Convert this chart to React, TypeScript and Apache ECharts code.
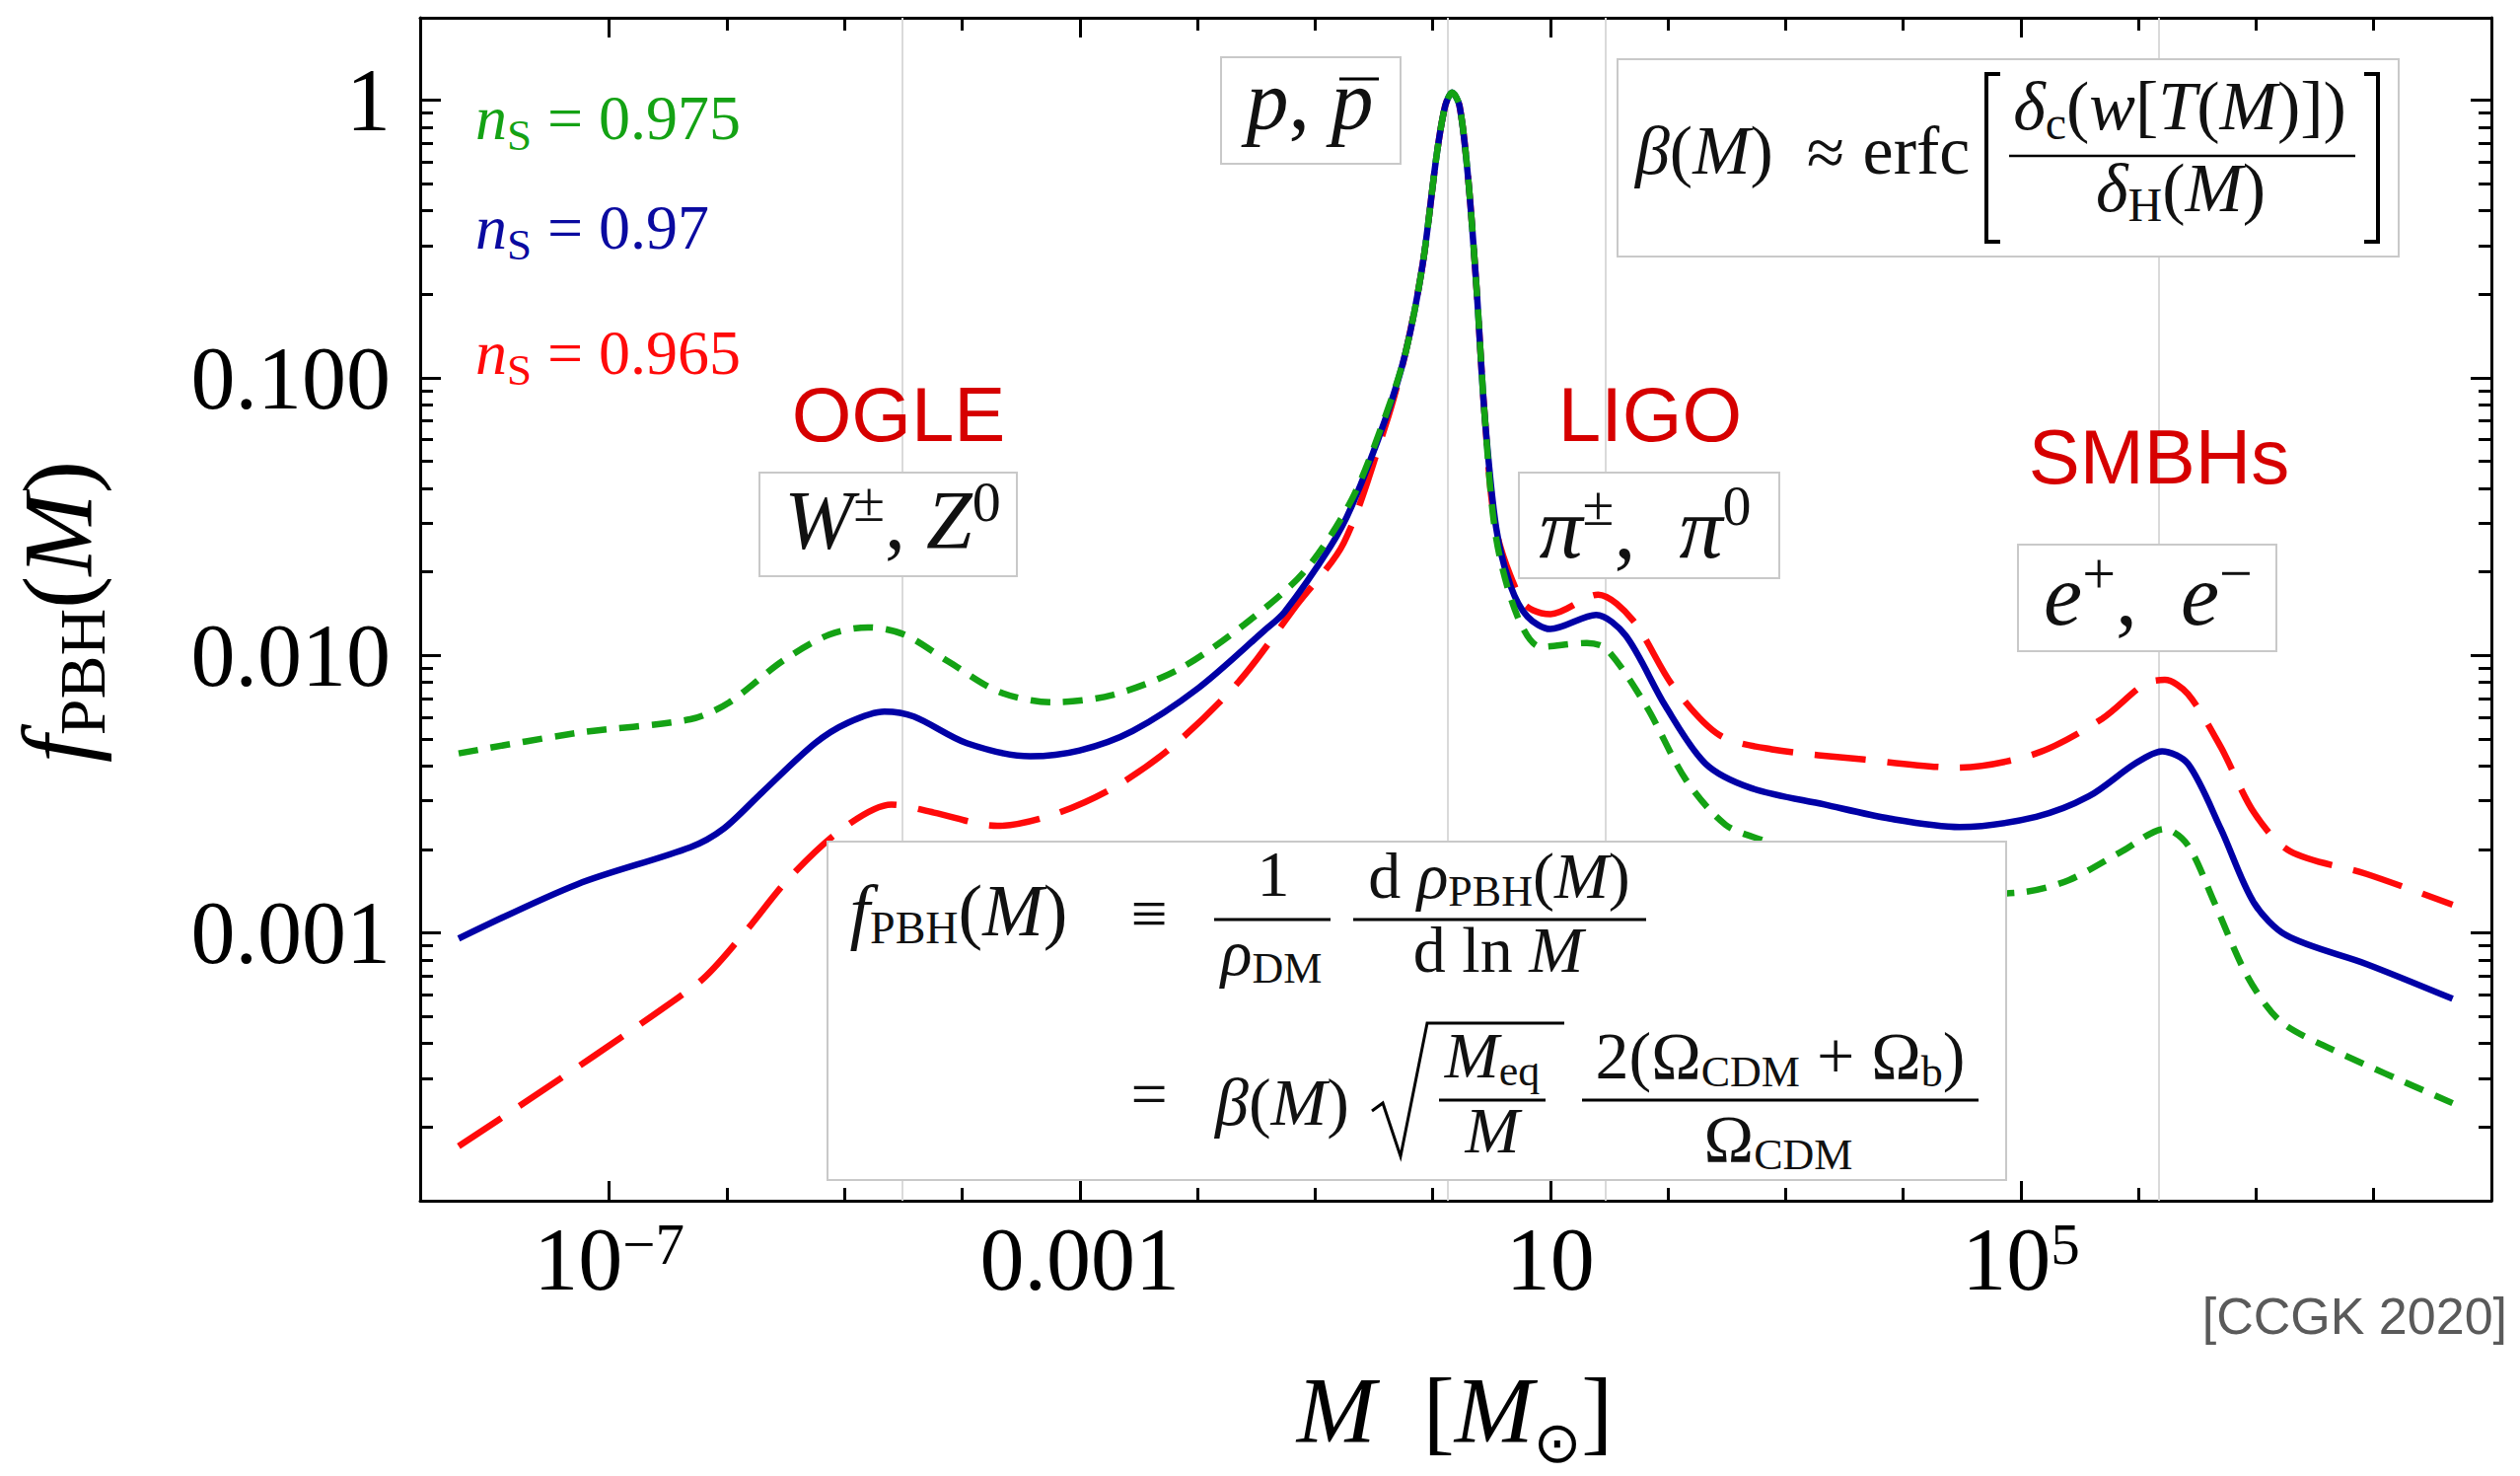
import React, { useEffect, useRef } from 'react';
import * as echarts from 'echarts';

const W = 2555;
const H = 1496;
const SERIF = "'Liberation Serif'";
const SANS = "'Liberation Sans'";

// ---- axes (log10 units) ----
const X_MIN = -8.607;
const X_MAX = 9.0;
const Y_MIN = -3.9645;
const Y_MAX = 0.2975;

const xMajorTicks = [-7, -3, 1, 5];
const xMajorLabels = ['{b|10}{s|\u22127}', '{b|0.001}', '{b|10}', '{b|10}{s|5}'];
const xMinorTicks = [-6, -5, -4, -2, -1, 0, 2, 3, 4, 6, 7, 8];
const yMajorTicks = [-3, -2, -1, 0];
const yMajorLabels = ['0.001', '0.010', '0.100', '1'];
const yMinorDecades = [-4, -3, -2, -1, 0];
const yMinorMultipliers = [2, 3, 4, 5, 6, 7, 8, 9];

// faint vertical reference lines (log10 M)
const gridLinesLog10M = [-4.515, 0.128, 1.469, 6.173];

// ---- data: log10(M/Msun) and log10(f_PBH) ----
const log10M_ns0970 = [-8.28, -7.27, -6.31, -6.03, -5.70, -5.25, -4.97, -4.66, -4.41, -3.96, -3.42, -3.00, -2.55, -1.99, -1.43, -1.26, -0.87, -0.69, -0.40, -0.23, -0.085, 0.035, 0.107, 0.165, 0.228, 0.30, 0.372, 0.444, 0.541, 0.662, 0.806, 1.00, 1.39, 1.64, 1.98, 2.32, 2.71, 3.33, 3.89, 4.48, 5.13, 5.58, 5.97, 6.20, 6.42, 6.70, 6.98, 7.26, 7.94, 8.67];
const log10f_ns0970 = [-3.020, -2.824, -2.691, -2.625, -2.493, -2.316, -2.242, -2.202, -2.220, -2.316, -2.363, -2.342, -2.272, -2.117, -1.910, -1.844, -1.608, -1.464, -1.146, -0.908, -0.591, -0.194, -0.019, 0.028, -0.019, -0.273, -0.670, -1.146, -1.543, -1.749, -1.860, -1.905, -1.854, -1.928, -2.183, -2.390, -2.478, -2.537, -2.588, -2.618, -2.581, -2.507, -2.390, -2.345, -2.390, -2.625, -2.890, -3.009, -3.112, -3.237];

const log10M_ns0975 = [-8.28, -7.27, -6.31, -5.98, -5.53, -5.13, -4.80, -4.49, -4.12, -3.68, -3.23, -2.72, -2.16, -1.60, -1.09, -0.69, -0.40, -0.23, -0.085, 0.035, 0.107, 0.165, 0.228, 0.30, 0.372, 0.444, 0.541, 0.721, 0.918, 1.311, 1.479, 1.816, 2.153, 2.490, 2.827, 3.40, 4.00, 4.50, 5.017, 5.410, 5.859, 6.224, 6.420, 6.645, 6.926, 7.207, 7.655, 8.67];
const log10f_ns0975 = [-2.353, -2.279, -2.230, -2.169, -2.021, -1.925, -1.899, -1.925, -2.021, -2.132, -2.169, -2.142, -2.050, -1.888, -1.697, -1.44, -1.135, -0.908, -0.591, -0.194, -0.019, 0.028, -0.019, -0.273, -0.670, -1.146, -1.58, -1.859, -1.969, -1.955, -1.977, -2.183, -2.448, -2.610, -2.669, -2.76, -2.83, -2.86, -2.853, -2.809, -2.706, -2.625, -2.684, -2.890, -3.156, -3.318, -3.421, -3.613];

const log10M_ns0965 = [-8.28, -6.26, -5.87, -5.47, -5.02, -4.60, -4.24, -3.70, -3.23, -2.72, -2.22, -1.65, -1.15, -0.755, -0.40, -0.23, -0.085, 0.035, 0.107, 0.165, 0.228, 0.30, 0.372, 0.444, 0.541, 0.749, 0.853, 1.002, 1.407, 1.704, 2.041, 2.434, 2.883, 3.669, 4.456, 5.129, 5.691, 6.055, 6.224, 6.420, 6.701, 6.982, 7.290, 7.936, 8.67];
const log10f_ns0965 = [-3.768, -3.185, -3.009, -2.802, -2.625, -2.537, -2.566, -2.614, -2.574, -2.478, -2.331, -2.095, -1.815, -1.594, -1.17, -0.908, -0.591, -0.194, -0.019, 0.028, -0.019, -0.273, -0.670, -1.146, -1.55, -1.80, -1.837, -1.851, -1.781, -1.874, -2.109, -2.286, -2.338, -2.375, -2.404, -2.353, -2.228, -2.102, -2.088, -2.139, -2.331, -2.566, -2.706, -2.787, -2.898];

const BLUE = '#0000a6';
const GREEN = '#14a214';
const RED = '#ff0a0a';
const LABEL_RED = '#d60000';

type TokOpt = { s?: number; it?: boolean; dy?: number; fam?: string };
type Tok = [string, TokOpt?];

const K = 0.3375;

function mathText(x: number, baseline: number, toks: Tok[], base: number, align: string, color: string, family: string = SERIF): any {
  const rich: Record<string, any> = {};
  let text = '';
  toks.forEach(([t, o], i) => {
    const opt = o || {};
    const size = opt.s ?? base;
    const dy = opt.dy ?? 0;
    const delta = dy + K * (base - size);
    const pad = delta >= 0 ? [2 * delta, 0, 0, 0] : [0, 0, -2 * delta, 0];
    rich['t' + i] = {
      font: `${opt.it ? 'italic ' : ''}${size}px ${opt.fam ?? family}`,
      fill: color,
      padding: pad,
    };
    text += `{t${i}|${t}}`;
  });
  return {
    type: 'text',
    z: 100,
    silent: true,
    style: {
      text,
      x,
      y: baseline - K * base,
      rich,
      fill: color,
      font: `${base}px ${family}`,
      align,
      textAlign: align,
      verticalAlign: 'middle',
      textVerticalAlign: 'middle',
    },
  };
}

function box(x: number, y: number, w: number, h: number): any {
  return {
    type: 'rect', z: 99, silent: true,
    shape: { x, y, width: w, height: h },
    style: { fill: '#ffffff', stroke: '#c9c9c9', lineWidth: 2 },
  };
}

function hline(x1: number, x2: number, y: number, lw = 2.5): any {
  return {
    type: 'line', z: 101, silent: true,
    shape: { x1, y1: y, x2, y2: y },
    style: { stroke: '#000', lineWidth: lw },
  };
}

function poly(points: number[][], lw = 3): any {
  return {
    type: 'polyline', z: 101, silent: true,
    shape: { points },
    style: { stroke: '#000', lineWidth: lw, fill: null },
  };
}

function buildGraphics(): any[] {
  const g: any[] = [];
  // legend-like labels
  g.push(mathText(482, 141, [['n', { it: true }], ['S', { s: 45, dy: 11 }], [' = 0.975']], 64, 'left', GREEN));
  g.push(mathText(482, 252, [['n', { it: true }], ['S', { s: 45, dy: 11 }], [' = 0.97']], 64, 'left', '#0a0aa0'));
  g.push(mathText(482, 379, [['n', { it: true }], ['S', { s: 45, dy: 11 }], [' = 0.965']], 64, 'left', RED));

  // experiment labels
  g.push(mathText(911, 446, [['OGLE']], 78, 'center', LABEL_RED, SANS));
  g.push(mathText(1673, 446, [['LIGO']], 78, 'center', LABEL_RED, SANS));
  g.push(mathText(2189, 489, [['SMBHs']], 78, 'center', LABEL_RED, SANS));
  g.push(mathText(2542, 1352, [['[CCGK 2020]']], 52, 'right', '#5a5a5a', SANS));

  // particle boxes
  g.push(box(1238, 58, 182, 108));
  g.push(mathText(1328, 130, [['p', { it: true }], [', '], ['p', { it: true }]], 86, 'center', '#111'));
  g.push(hline(1358, 1398, 80, 3));

  g.push(box(770, 479, 261, 105));
  g.push(mathText(905, 556, [['W', { it: true }], ['\u00b1', { s: 58, dy: -28 }], [', '], ['Z', { it: true }], ['0', { s: 58, dy: -28 }]], 84, 'center', '#111'));

  g.push(box(1540, 479, 264, 107));
  g.push(mathText(1668, 565, [['\u03c0', { it: true }], ['\u00b1', { s: 58, dy: -33 }], [',  '], ['\u03c0', { it: true }], ['0', { s: 58, dy: -33 }]], 88, 'center', '#111'));

  g.push(box(2046, 552, 262, 108));
  g.push(mathText(2178, 633, [['e', { it: true }], ['+', { s: 60, dy: -32 }], [',  '], ['e', { it: true }], ['\u2212', { s: 60, dy: -32 }]], 88, 'center', '#111'));

  // beta box
  g.push(box(1640, 60, 792, 200));
  g.push(mathText(1658, 176, [['\u03b2', { it: true }], ['('], ['M', { it: true }], [')']], 70, 'left', '#111'));
  g.push(mathText(1851, 178, [['\u2248']], 70, 'center', '#111'));
  g.push(mathText(1943, 176, [['erfc']], 70, 'center', '#111'));
  g.push(poly([[2028, 75], [2014, 75], [2014, 245], [2028, 245]], 4));
  g.push(poly([[2397, 75], [2411, 75], [2411, 245], [2397, 245]], 4));
  g.push(mathText(2210, 131, [['\u03b4', { it: true }], ['c', { s: 48, dy: 10 }], ['('], ['w', { it: true }], ['['], ['T', { it: true }], ['('], ['M', { it: true }], [')'], [']'], [')']], 70, 'center', '#111'));
  g.push(hline(2037, 2388, 158, 2.5));
  g.push(mathText(2211, 214, [['\u03b4', { it: true }], ['H', { s: 48, dy: 10 }], ['('], ['M', { it: true }], [')']], 70, 'center', '#111'));

  // definition box
  g.push(box(839, 853, 1195, 343));
  g.push(mathText(972, 948, [['f', { it: true }], ['PBH', { s: 46, dy: 8 }], ['('], ['M', { it: true }], [')']], 74, 'center', '#111'));
  g.push(mathText(1165, 948, [['\u2261']], 66, 'center', '#111'));
  g.push(mathText(1291, 908, [['1']], 66, 'center', '#111'));
  g.push(hline(1231, 1349, 932, 3));
  g.push(mathText(1289, 988, [['\u03c1', { it: true }], ['DM', { s: 44, dy: 8 }]], 66, 'center', '#111'));
  g.push(mathText(1520, 910, [['d '], ['\u03c1', { it: true }], ['PBH', { s: 44, dy: 8 }], ['('], ['M', { it: true }], [')']], 66, 'center', '#111'));
  g.push(hline(1372, 1669, 932, 3));
  g.push(mathText(1519, 985, [['d ln '], ['M', { it: true }]], 66, 'center', '#111'));

  g.push(mathText(1165, 1131, [['=']], 66, 'center', '#111'));
  g.push(mathText(1300, 1140, [['\u03b2', { it: true }], ['('], ['M', { it: true }], [')']], 68, 'center', '#111'));
  g.push(poly([[1391, 1126], [1402, 1118], [1420, 1172], [1447, 1037], [1586, 1037]], 3));
  g.push(mathText(1513, 1092, [['M', { it: true }], ['eq', { s: 44, dy: 8 }]], 66, 'center', '#111'));
  g.push(hline(1459, 1567, 1115, 3));
  g.push(mathText(1513, 1168, [['M', { it: true }]], 66, 'center', '#111'));
  g.push(mathText(1805, 1093, [['2('], ['\u03a9'], ['CDM', { s: 44, dy: 8 }], [' + '], ['\u03a9'], ['b', { s: 44, dy: 8 }], [')']], 68, 'center', '#111'));
  g.push(hline(1604, 2006, 1115, 3));
  g.push(mathText(1803, 1177, [['\u03a9'], ['CDM', { s: 44, dy: 8 }]], 68, 'center', '#111'));

  // axis titles
  const yt = mathText(0, 0, [['f', { it: true }], ['PBH', { s: 66, dy: 14 }], ['('], ['M', { it: true }], [')']], 100, 'center', '#000');
  yt.x = 92;
  yt.y = 620;
  yt.rotation = Math.PI / 2;
  g.push(yt);
  g.push(mathText(1475, 1462, [['M', { it: true }], ['  ['], ['M', { it: true }], ['\u2299', { s: 58, dy: 20, fam: "'DejaVu Sans'" }], [']']], 96, 'center', '#000'));
  return g;
}

function toData(xs: number[], ys: number[]) {
  return xs.map((x, i) => [x, ys[i]]);
}

function buildOption(): any {
  const yMinorTicks: number[] = [];
  yMinorDecades.forEach((d) => {
    yMinorMultipliers.forEach((k) => {
      const v = d + Math.log10(k);
      if (v > Y_MIN && v < Y_MAX) yMinorTicks.push(v);
    });
  });
  const frame = { show: true, onZero: false, lineStyle: { color: '#000', width: 3 } };
  const noLine = { show: false, onZero: false };
  const tickStyle = { color: '#000', width: 3 };
  const baseX = { type: 'value', min: X_MIN, max: X_MAX, splitLine: { show: false }, gridIndex: 0 };
  const baseY = { type: 'value', min: Y_MIN, max: Y_MAX, splitLine: { show: false }, gridIndex: 0 };
  const xLabelRich = {
    b: { fontFamily: 'Liberation Serif', fontSize: 90, color: '#000' },
    s: { fontFamily: 'Liberation Serif', fontSize: 59, color: '#000', verticalAlign: 'top' },
  };
  return {
    animation: false,
    backgroundColor: '#ffffff',
    grid: { left: 426, top: 18, width: 2100, height: 1199, containLabel: false },
    xAxis: [
      {
        ...baseX, position: 'bottom', axisLine: frame,
        axisTick: { show: true, inside: true, length: 20, lineStyle: tickStyle, customValues: xMajorTicks },
        axisLabel: {
          show: true, customValues: xMajorTicks, margin: 14, rich: xLabelRich,
          formatter: (v: number) => xMajorLabels[xMajorTicks.indexOf(Math.round(v))] || '',
        },
      },
      {
        ...baseX, position: 'bottom', axisLine: noLine,
        axisTick: { show: true, inside: true, length: 13, lineStyle: tickStyle, customValues: xMinorTicks },
        axisLabel: { show: false },
      },
      {
        ...baseX, position: 'top', axisLine: frame,
        axisTick: { show: true, inside: true, length: 20, lineStyle: tickStyle, customValues: xMajorTicks },
        axisLabel: { show: false },
      },
      {
        ...baseX, position: 'top', axisLine: noLine,
        axisTick: { show: true, inside: true, length: 13, lineStyle: tickStyle, customValues: xMinorTicks },
        axisLabel: { show: false },
      },
    ],
    yAxis: [
      {
        ...baseY, position: 'left', axisLine: frame,
        axisTick: { show: true, inside: true, length: 21, lineStyle: tickStyle, customValues: yMajorTicks },
        axisLabel: {
          show: true, customValues: yMajorTicks, margin: 30,
          fontFamily: 'Liberation Serif', fontSize: 90, color: '#000',
          formatter: (v: number) => yMajorLabels[yMajorTicks.indexOf(Math.round(v))] || '',
        },
      },
      {
        ...baseY, position: 'left', axisLine: noLine,
        axisTick: { show: true, inside: true, length: 13, lineStyle: tickStyle, customValues: yMinorTicks },
        axisLabel: { show: false },
      },
      {
        ...baseY, position: 'right', axisLine: frame,
        axisTick: { show: true, inside: true, length: 21, lineStyle: tickStyle, customValues: yMajorTicks },
        axisLabel: { show: false },
      },
      {
        ...baseY, position: 'right', axisLine: noLine,
        axisTick: { show: true, inside: true, length: 13, lineStyle: tickStyle, customValues: yMinorTicks },
        axisLabel: { show: false },
      },
    ],
    series: [
      {
        type: 'line', name: 'n_S = 0.965', xAxisIndex: 0, yAxisIndex: 0,
        data: toData(log10M_ns0965, log10f_ns0965),
        symbol: 'none', showSymbol: false, smooth: 0.3, z: 2,
        lineStyle: { color: RED, width: 6.5, type: [52, 22], cap: 'butt' },
        markLine: {
          silent: true, z: 1, symbol: ['none', 'none'], animation: false,
          label: { show: false },
          lineStyle: { color: '#dadada', width: 2, type: 'solid' },
          emphasis: { disabled: true },
          data: gridLinesLog10M.map((v) => ({ xAxis: v })),
        },
      },
      {
        type: 'line', name: 'n_S = 0.97', xAxisIndex: 0, yAxisIndex: 0,
        data: toData(log10M_ns0970, log10f_ns0970),
        symbol: 'none', showSymbol: false, smooth: 0.3, z: 3,
        lineStyle: { color: BLUE, width: 6.5, type: 'solid' },
      },
      {
        type: 'line', name: 'n_S = 0.975', xAxisIndex: 0, yAxisIndex: 0,
        data: toData(log10M_ns0975, log10f_ns0975),
        symbol: 'none', showSymbol: false, smooth: 0.3, z: 4,
        lineStyle: { color: GREEN, width: 6.5, type: [20, 13], cap: 'butt' },
      },
    ],
    graphic: { elements: buildGraphics() },
  };
}

export default function App() {
  const ref = useRef<HTMLDivElement | null>(null);
  useEffect(() => {
    if (!ref.current) return;
    const chart = echarts.init(ref.current, null, { renderer: 'svg', width: W, height: H });
    chart.setOption(buildOption());
    return () => {
      chart.dispose();
    };
  }, []);
  return (
    <div
      ref={ref}
      style={{ position: 'fixed', left: 0, top: 0, width: W, height: H, background: '#fff' }}
    />
  );
}
